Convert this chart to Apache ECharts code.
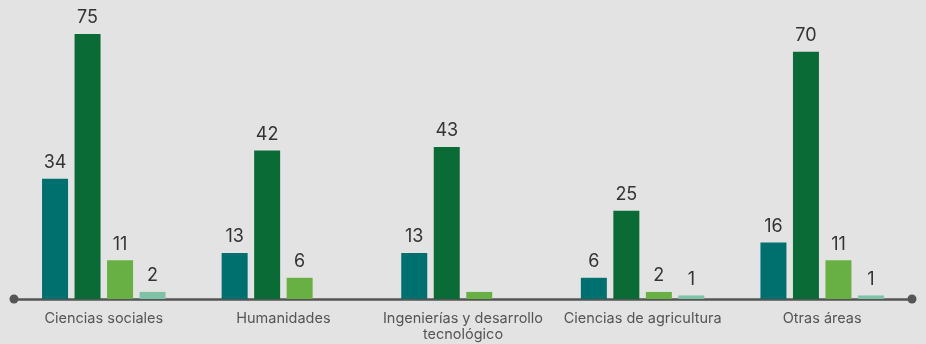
<!DOCTYPE html>
<html>
<head>
<meta charset="utf-8">
<script src="https://cdn.jsdelivr.net/npm/echarts@6/dist/echarts.min.js"></script>
<style>
  html, body { margin: 0; padding: 0; background: #e3e3e3; }
  #main { width: 926px; height: 344px; }
</style>
</head>
<body>
<div id="main"></div>
<script>
const categories = ['Ciencias sociales', 'Humanidades', 'Ingenierías y desarrollo\ntecnológico', 'Ciencias de agricultura', 'Otras áreas'];
const serie1 = [34, 13, 13, 6, 16];
const serie2 = [75, 42, 43, 25, 70];
const serie3 = [11, 6, 2, 2, 11];
const serie4 = [2, null, null, 1, 1];
// valores sin etiqueta en la imagen
const hiddenLabels = { 2: [2] };

const colors = ['#00706f', '#0a6b37', '#68b044', '#7ec3a6'];

function toData(values, idx) {
  return values.map((v, i) => {
    if (hiddenLabels[idx] && hiddenLabels[idx].includes(i)) {
      return { value: v, label: { show: false } };
    }
    return v;
  });
}

const chart = echarts.init(document.getElementById('main'));
const series = [serie1, serie2, serie3, serie4].map((vals, idx) => ({
  type: 'bar',
  barWidth: 26,
  barGap: '25%',
  data: toData(vals, idx),
  itemStyle: { color: colors[idx] },
  label: {
    show: true,
    position: 'top',
    distance: 7,
    color: '#333',
    fontSize: 18,
    fontFamily: 'Inter'
  }
}));

chart.setOption({
  backgroundColor: '#e3e3e3',
  animation: false,
  grid: { left: 14, right: 14, top: 34, bottom: 45 },
  xAxis: {
    type: 'category',
    data: categories,
    axisLine: {
      lineStyle: { color: '#555', width: 2.5 },
      symbol: ['circle', 'circle'],
      symbolSize: [9, 9]
    },
    axisTick: { show: false },
    axisLabel: {
      color: '#555',
      fontSize: 14.5,
      fontFamily: 'Inter',
      margin: 12,
      lineHeight: 16,
      interval: 0
    }
  },
  yAxis: {
    type: 'value',
    min: 0,
    max: 75,
    show: false
  },
  series: series
});
</script>
</body>
</html>
